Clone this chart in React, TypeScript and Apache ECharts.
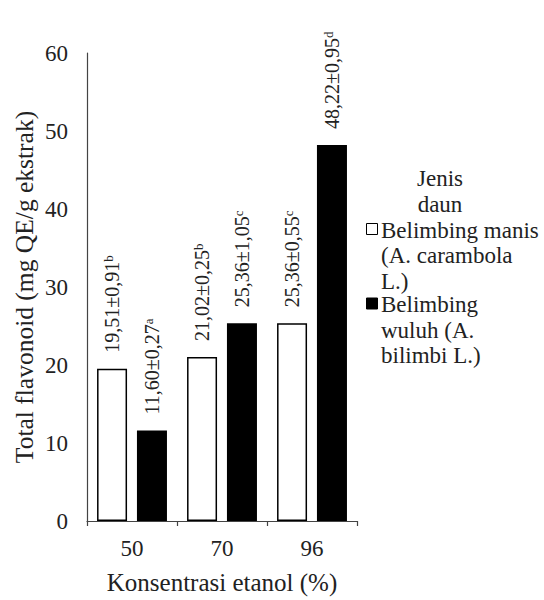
import React, { useEffect, useRef } from 'react';
import * as echarts from 'echarts';

const categories = ['50', '70', '96'];
const manisValues = [19.51, 21.02, 25.36];
const wuluhValues = [11.6, 25.36, 48.22];
const manisLabels = ['19,51±0,91', '21,02±0,25', '25,36±0,55'];
const manisLetters = ['b', 'b', 'c'];
const wuluhLabels = ['11,60±0,27', '25,36±1,05', '48,22±0,95'];
const wuluhLetters = ['a', 'c', 'd'];
const seriesNames = ['Belimbing manis (A. carambola L.)', 'Belimbing wuluh (A. bilimbi L.)'];
const legendTitle = ['Jenis', 'daun'];
const legendLines = [
  ['Belimbing manis', '(A. carambola', 'L.)'],
  ['Belimbing', 'wuluh (A.', 'bilimbi L.)'],
];
const yTicks = { min: 0, max: 60, interval: 10 };
const xAxisName = 'Konsentrasi etanol (%)';
const yAxisName = 'Total flavonoid (mg QE/g ekstrak)';

const FONT = 'Liberation Serif';
const TXT = '#222';

function makeLabel(texts: string[], letters: string[]) {
  return {
    show: true,
    position: 'top',
    distance: 16,
    rotate: 90,
    align: 'left',
    verticalAlign: 'middle',
    formatter: (p: any) => `{v|${texts[p.dataIndex]}}{s|${letters[p.dataIndex]}}`,
    rich: {
      v: { fontSize: 20, fontFamily: FONT, color: TXT },
      s: { fontSize: 13, fontFamily: FONT, color: TXT, verticalAlign: 'top' },
    },
  };
}

export default function App() {
  const ref = useRef<HTMLDivElement>(null);
  useEffect(() => {
    document.body.style.margin = '0';
    if (!ref.current) return;
    const chart = echarts.init(ref.current, null, { renderer: 'svg' });
    const graphics: any[] = [];
    legendTitle.forEach((t, i) => {
      graphics.push({
        type: 'text',
        x: 440,
        y: 178 + i * 26,
        style: { text: t, fontSize: 23, fontFamily: FONT, fill: TXT, align: 'center', verticalAlign: 'middle' },
      });
    });
    const legendStarts = [230, 304.5];
    legendLines.forEach((lines, si) => {
      const y0 = legendStarts[si];
      graphics.push({
        type: 'rect',
        shape: { x: 366.5, y: y0 - 6.5, width: 11, height: 11 },
        style: { fill: si === 0 ? '#fff' : '#000', stroke: '#000', lineWidth: 1 },
      });
      lines.forEach((l, li) => {
        graphics.push({
          type: 'text',
          x: 381,
          y: y0 + li * 25.5,
          style: { text: l, fontSize: 23, fontFamily: FONT, fill: TXT, align: 'left', verticalAlign: 'middle' },
        });
      });
    });
    chart.setOption({
      animation: false,
      textStyle: { fontFamily: FONT },
      grid: { left: 87, right: 187, top: 53, bottom: 76 },
      xAxis: {
        type: 'category',
        data: categories,
        name: xAxisName,
        nameLocation: 'middle',
        nameGap: 49,
        nameTextStyle: { fontSize: 25, fontFamily: FONT, color: TXT },
        axisLine: { lineStyle: { color: '#444', width: 1.2 } },
        axisTick: { show: true, length: 5, lineStyle: { color: '#444', width: 1.2 } },
        axisLabel: { fontSize: 23, fontFamily: FONT, color: TXT, margin: 16 },
      },
      yAxis: {
        type: 'value',
        min: yTicks.min,
        max: yTicks.max,
        interval: yTicks.interval,
        name: yAxisName,
        nameLocation: 'middle',
        nameGap: 50,
        nameTextStyle: { fontSize: 25.5, fontFamily: FONT, color: TXT },
        axisLine: { show: true, lineStyle: { color: '#444', width: 1.2 } },
        axisTick: { show: false },
        splitLine: { show: false },
        axisLabel: { fontSize: 23, fontFamily: FONT, color: TXT, margin: 19 },
      },
      series: [
        {
          name: seriesNames[0],
          type: 'bar',
          data: manisValues,
          barWidth: 30,
          barGap: '33%',
          itemStyle: { color: '#fff', borderColor: '#000', borderWidth: 1.5 },
          label: makeLabel(manisLabels, manisLetters),
        },
        {
          name: seriesNames[1],
          type: 'bar',
          data: wuluhValues,
          barWidth: 30,
          itemStyle: { color: '#000', borderColor: '#000', borderWidth: 1.5 },
          label: makeLabel(wuluhLabels, wuluhLetters),
        },
      ],
      graphic: graphics,
    });
    return () => chart.dispose();
  }, []);
  return <div ref={ref} style={{ width: 544, height: 600 }} />;
}
